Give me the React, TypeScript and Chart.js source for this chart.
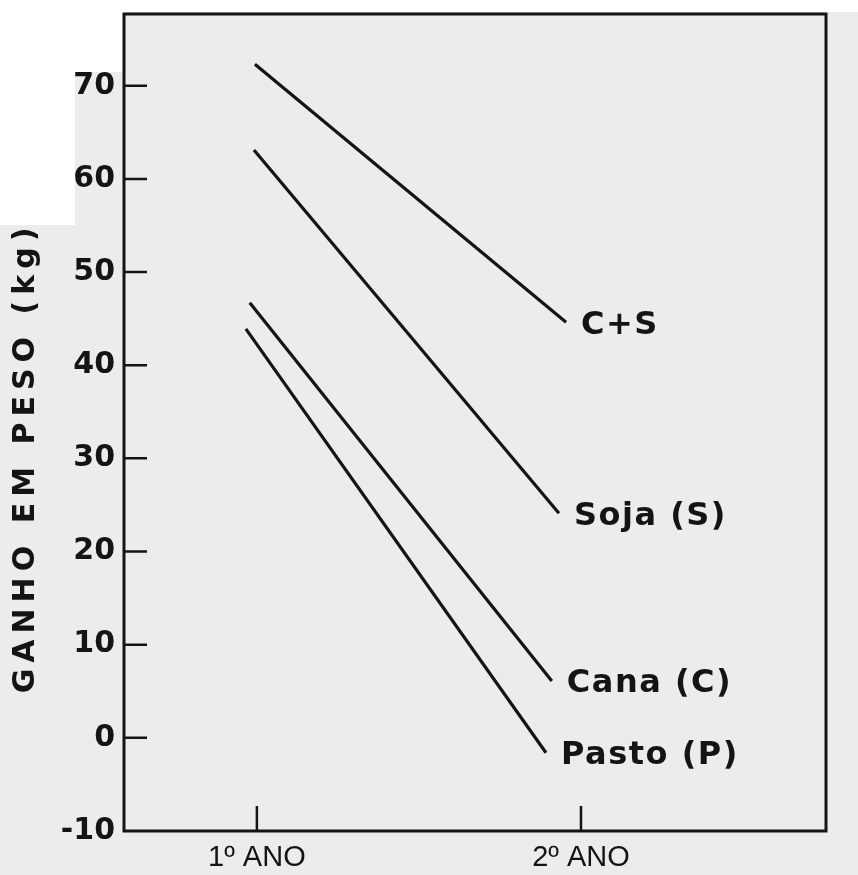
import React, { useEffect, useRef } from "react";
import { Chart, registerables } from "chart.js";

Chart.register(...registerables);

// ---- data ----
const yearTickValues = [1, 2];
const yearTickLabels = ["1º ANO", "2º ANO"];
const gainTickValues = [-10, 0, 10, 20, 30, 40, 50, 60, 70];
const axisTitle = "GANHO EM PESO (kg)";

const seriesNames = ["C+S", "Soja (S)", "Cana (C)", "Pasto (P)"];
const csYears = [0.994, 1.954];
const csGain = [72.3, 44.6];
const sojaYears = [0.991, 1.932];
const sojaGain = [63.1, 24.1];
const canaYears = [0.978, 1.91];
const canaGain = [46.7, 6.1];
const pastoYears = [0.966, 1.892];
const pastoGain = [43.9, -1.6];

const seriesYears = [csYears, sojaYears, canaYears, pastoYears];
const seriesGain = [csGain, sojaGain, canaGain, pastoGain];

const INK = "#141414";
const FONT = "'DejaVu Sans', 'Liberation Sans', sans-serif";
const XFONT = "'Liberation Sans', Arial, sans-serif";

const paperPlugin = {
  id: "paper",
  beforeDraw(chart: any) {
    const { ctx, width, height } = chart;
    ctx.save();
    ctx.fillStyle = "#ececec";
    ctx.fillRect(0, 0, width, height);
    ctx.fillStyle = "#ffffff";
    ctx.fillRect(0, 0, 125, 72);
    ctx.fillRect(0, 0, 75, 225);
    ctx.fillRect(0, 0, width, 12);
    ctx.restore();
  },
  afterDraw(chart: any) {
    const { ctx, chartArea } = chart;
    const { left, right, top, bottom } = chartArea;
    const xs = chart.scales.x;
    const ys = chart.scales.y;
    ctx.save();
    ctx.strokeStyle = INK;
    ctx.lineWidth = 3;
    ctx.lineCap = "square";
    // frame
    ctx.beginPath();
    ctx.moveTo(left, top);
    ctx.lineTo(left, bottom);
    ctx.lineTo(right, bottom);
    ctx.lineTo(right, top);
    ctx.lineTo(left, top);
    ctx.stroke();
    // inward ticks
    ctx.lineWidth = 2.5;
    ctx.lineCap = "butt";
    ctx.beginPath();
    gainTickValues.forEach((v) => {
      if (v <= ys.min) return;
      const py = ys.getPixelForValue(v);
      ctx.moveTo(left, py);
      ctx.lineTo(left + 23, py);
    });
    yearTickValues.forEach((v) => {
      const px = xs.getPixelForValue(v);
      ctx.moveTo(px, bottom);
      ctx.lineTo(px, bottom - 25);
    });
    ctx.stroke();

    // y axis title with letter spacing
    ctx.fillStyle = INK;
    ctx.font = `bold 30px ${FONT}`;
    ctx.textAlign = "center";
    ctx.textBaseline = "middle";
    (ctx as any).letterSpacing = "6px";
    ctx.translate(26, (top + bottom) / 2 + 35);
    ctx.rotate(-Math.PI / 2);
    ctx.fillText(axisTitle, 0, 0);
    ctx.restore();

    // series labels at line ends
    ctx.save();
    ctx.fillStyle = INK;
    ctx.font = `bold 32px ${FONT}`;
    ctx.textAlign = "left";
    ctx.textBaseline = "middle";
    (ctx as any).letterSpacing = "1.5px";
    chart.data.datasets.forEach((ds: any, i: number) => {
      const meta = chart.getDatasetMeta(i);
      const last = meta.data[meta.data.length - 1];
      ctx.fillText(ds.label, last.x + 15, last.y + 3);
    });
    ctx.restore();
  },
};

export default function App() {
  const canvasRef = useRef<HTMLCanvasElement | null>(null);

  useEffect(() => {
    if (!canvasRef.current) return;
    const datasets = seriesNames.map((name, i) => ({
      label: name,
      data: seriesYears[i].map((x, j) => ({ x, y: seriesGain[i][j] })),
      borderColor: INK,
      borderWidth: 3.2,
      pointRadius: 0,
      tension: 0,
      fill: false,
    }));

    const chart = new Chart(canvasRef.current, {
      type: "line",
      data: { datasets },
      options: {
        animation: false,
        responsive: false,
        devicePixelRatio: 1,
        layout: { padding: { top: 14, right: 32, left: 0, bottom: 0 } },
        plugins: {
          legend: { display: false },
          tooltip: { enabled: false },
        },
        scales: {
          x: {
            type: "linear",
            min: 0.59,
            max: 2.756,
            grid: { display: false, drawTicks: false },
            border: { display: false },
            ticks: {
              autoSkip: false,
              maxRotation: 0,
              padding: 10,
              color: INK,
              font: { family: XFONT, size: 29 },
              callback: (v: any) => {
                const i = yearTickValues.indexOf(Number(v));
                return i >= 0 ? yearTickLabels[i] : "";
              },
            },
            afterBuildTicks: (s: any) => {
              s.ticks = yearTickValues.map((v) => ({ value: v }));
            },
            afterFit: (s: any) => {
              s.height = 44;
              s.paddingLeft = 0;
              s.paddingRight = 0;
            },
          },
          y: {
            type: "linear",
            min: -10,
            max: 77.7,
            grid: { display: false, drawTicks: false },
            border: { display: false },
            ticks: {
              padding: 9,
              color: INK,
              font: { family: FONT, size: 30, weight: "bold" },
            },
            afterBuildTicks: (s: any) => {
              s.ticks = gainTickValues.map((v) => ({ value: v }));
            },
            afterFit: (s: any) => {
              s.width = 124;
              s.paddingTop = 0;
              s.paddingBottom = 0;
            },
          },
        },
      },
      plugins: [paperPlugin],
    } as any);

    return () => chart.destroy();
  }, []);

  return (
    <div style={{ position: "absolute", left: 0, top: 0, width: 858, height: 875 }}>
      <canvas ref={canvasRef} width={858} height={875} />
    </div>
  );
}
